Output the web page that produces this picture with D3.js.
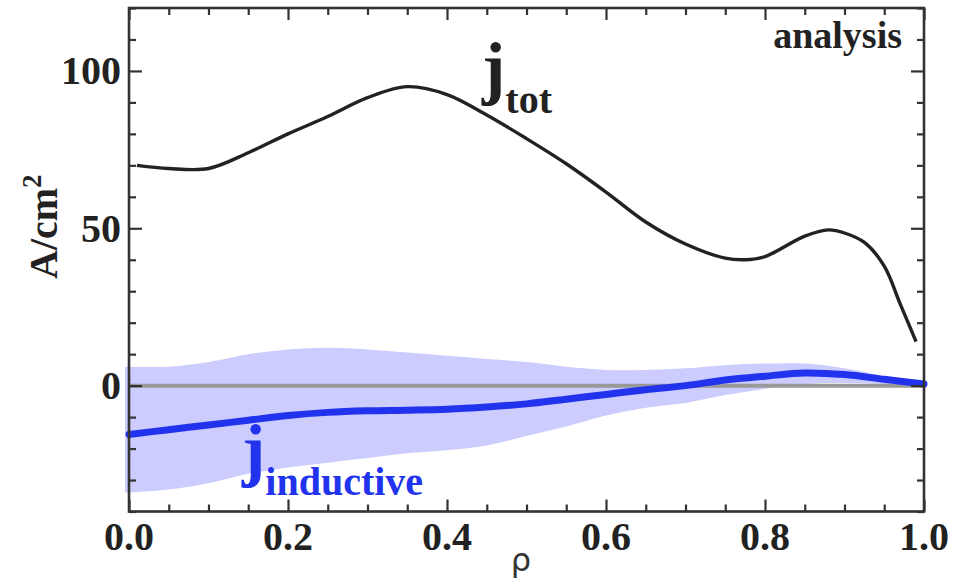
<!DOCTYPE html>
<html>
<head>
<meta charset="utf-8">
<script src="https://cdn.jsdelivr.net/npm/d3@7"></script>
<style>
  html, body { margin: 0; padding: 0; background: #fff; }
  svg { display: block; }
  text { font-family: "Liberation Serif", "Times New Roman", serif; }
</style>
</head>
<body>
<svg id="chart" width="964" height="580"></svg>
<script>
// ---- data ----
const rhoTot = [0.01, 0.05, 0.10, 0.15, 0.20, 0.25, 0.30, 0.35, 0.40, 0.45, 0.50, 0.55, 0.60, 0.65, 0.70, 0.75, 0.775, 0.80, 0.85, 0.88, 0.90, 0.925, 0.95, 0.97, 0.99];
const jTot   = [70, 69, 69, 74, 80, 85.5, 91.5, 95, 92.5, 86, 78.5, 70.5, 61.5, 52, 45, 40.5, 40, 41, 47.5, 49.5, 48.5, 45.5, 38, 26, 14];

const rhoInd = [0.0, 0.05, 0.10, 0.15, 0.20, 0.25, 0.30, 0.35, 0.40, 0.45, 0.50, 0.55, 0.60, 0.65, 0.70, 0.75, 0.80, 0.85, 0.90, 0.95, 1.0];
const jInd   = [-15.5, -14, -12.5, -11, -9.5, -8.5, -8, -7.8, -7.5, -6.8, -5.8, -4.3, -2.8, -1.3, 0, 1.8, 3, 4, 3.5, 2, 0.5];
const rhoBand = [-0.005, 0.05, 0.10, 0.15, 0.20, 0.25, 0.30, 0.35, 0.40, 0.45, 0.50, 0.55, 0.60, 0.65, 0.70, 0.75, 0.80, 0.85, 0.90, 0.95, 1.0];
const bandUp = [6, 6, 7.5, 10, 11.5, 12, 11.5, 10.5, 9.5, 8.5, 7.5, 6, 5, 5, 5.5, 6.5, 7, 7, 5.5, 3, 0.5];
const bandLo = [-34, -33, -31, -28, -26, -24.5, -23, -21.5, -20.5, -19, -16, -13, -9.5, -7, -5.5, -3, -1, 0.5, 0.8, 0.5, 0];

const xMajor = [0.0, 0.2, 0.4, 0.6, 0.8, 1.0];
const yMajor = [0, 50, 100];
const xTickLabels = ["0.0", "0.2", "0.4", "0.6", "0.8", "1.0"];
const yTickLabels = ["0", "50", "100"];

// ---- layout ----
const L = 129, R = 924, T = 8, B = 511.5;
const svg = d3.select("#chart");
const x = d3.scaleLinear().domain([0, 1]).range([L, R]);
const y = d3.scaleLinear().domain([-40, 120]).range([B, T]);
const frameColor = "#333";

// band
const bandData = rhoBand.map((r, i) => ({ r, lo: bandLo[i], hi: bandUp[i] }));
svg.append("path")
  .datum(bandData)
  .attr("fill", "#ccccff")
  .attr("d", d3.area().curve(d3.curveCatmullRom.alpha(0.5))
    .x(d => x(d.r)).y0(d => y(d.lo)).y1(d => y(d.hi)));

// zero line
svg.append("line")
  .attr("x1", x(0)).attr("x2", x(1))
  .attr("y1", y(0)).attr("y2", y(0))
  .attr("stroke", "#999").attr("stroke-width", 4);

// j inductive
svg.append("path")
  .datum(rhoInd.map((r, i) => [r, jInd[i]]))
  .attr("fill", "none").attr("stroke", "#2233ee").attr("stroke-width", 7)
  .attr("stroke-linecap", "round")
  .attr("d", d3.line().curve(d3.curveCatmullRom.alpha(0.5)).x(d => x(d[0])).y(d => y(d[1])));

// j tot
svg.append("path")
  .datum(rhoTot.map((r, i) => [r, jTot[i]]))
  .attr("fill", "none").attr("stroke", "#222").attr("stroke-width", 3.4)
  .attr("d", d3.line().curve(d3.curveCatmullRom.alpha(0.5)).x(d => x(d[0])).y(d => y(d[1])));

// axes with inward ticks
const xMinor = d3.range(0, 1.0001, 0.05).filter(v => !xMajor.some(m => Math.abs(m - v) < 1e-6));
const yMinor = d3.range(-40, 120.001, 10).filter(v => !yMajor.some(m => Math.abs(m - v) < 1e-6));

function drawAxis(axisGen, tx, ty) {
  const g = svg.append("g").attr("transform", `translate(${tx},${ty})`).call(axisGen);
  g.selectAll(".domain").remove();
  g.selectAll("text").remove();
  g.selectAll("line").attr("stroke", frameColor).attr("stroke-width", 2.2);
  return g;
}
// bottom
drawAxis(d3.axisTop(x).tickValues(xMajor).tickSize(12), 0, B);
drawAxis(d3.axisTop(x).tickValues(xMinor).tickSize(7), 0, B);
// top
drawAxis(d3.axisBottom(x).tickValues(xMajor).tickSize(12), 0, T);
drawAxis(d3.axisBottom(x).tickValues(xMinor).tickSize(7), 0, T);
// left
drawAxis(d3.axisRight(y).tickValues(yMajor).tickSize(13), L, 0);
drawAxis(d3.axisRight(y).tickValues(yMinor).tickSize(7), L, 0);
// right
drawAxis(d3.axisLeft(y).tickValues(yMajor).tickSize(13), R, 0);
drawAxis(d3.axisLeft(y).tickValues(yMinor).tickSize(7), R, 0);

// frame
svg.append("rect")
  .attr("x", L).attr("y", T).attr("width", R - L).attr("height", B - T)
  .attr("fill", "none").attr("stroke", frameColor).attr("stroke-width", 2.6);

// tick labels
svg.append("g").selectAll("text").data(xMajor).join("text")
  .attr("x", d => x(d)).attr("y", 550)
  .attr("text-anchor", "middle")
  .attr("font-size", 40).attr("font-weight", "bold").attr("fill", "#222")
  .text((d, i) => xTickLabels[i]);

svg.append("g").selectAll("text").data(yMajor).join("text")
  .attr("x", 121).attr("y", d => y(d) + 13.5)
  .attr("text-anchor", "end")
  .attr("font-size", 40).attr("font-weight", "bold").attr("fill", "#222")
  .text((d, i) => yTickLabels[i]);

// axis titles
svg.append("text")
  .attr("x", 521).attr("y", 571)
  .attr("text-anchor", "middle")
  .style("font-family", "'DejaVu Sans', sans-serif")
  .attr("font-size", 32).attr("fill", "#333")
  .text("ρ");

const yl = svg.append("text")
  .attr("transform", "translate(57,279) rotate(-90)")
  .attr("text-anchor", "start")
  .attr("font-size", 40).attr("font-weight", "bold").attr("fill", "#222");
yl.append("tspan").text("A/cm");
yl.append("tspan").attr("font-size", 27).attr("dy", -16).text("2");

// annotation
svg.append("text")
  .attr("x", 902).attr("y", 48)
  .attr("text-anchor", "end")
  .attr("font-size", 38).attr("font-weight", "bold").attr("fill", "#222")
  .text("analysis");

// j_tot label
const lt = svg.append("text").attr("x", 482).attr("y", 91)
  .attr("font-weight", "bold").attr("fill", "#222");
lt.append("tspan").attr("font-size", 70).text("j");
lt.append("tspan").attr("font-size", 40).attr("dy", 22).text("tot");

// j_inductive label
const li = svg.append("text").attr("x", 242).attr("y", 473)
  .attr("font-weight", "bold").attr("fill", "#2233ee");
li.append("tspan").attr("font-size", 70).text("j");
li.append("tspan").attr("font-size", 40).attr("dy", 22).text("inductive");
</script>
</body>
</html>
